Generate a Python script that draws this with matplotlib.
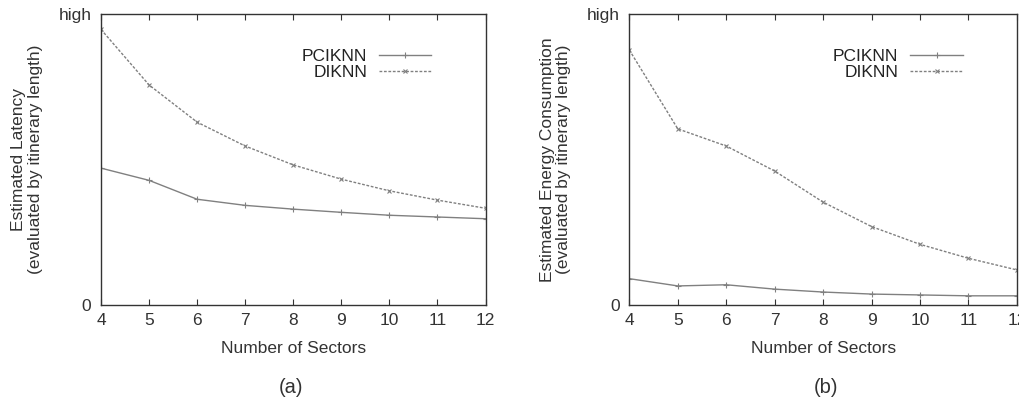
import matplotlib
matplotlib.use("Agg")
import matplotlib.pyplot as plt

plt.rcParams['font.family'] = ['Liberation Sans', 'DejaVu Sans']

sectors = [4, 5, 6, 7, 8, 9, 10, 11, 12]

# (a) estimated latency, normalised 0..high
latency_pciknn = [0.470, 0.428, 0.363, 0.342, 0.329, 0.318, 0.308, 0.302, 0.296]
latency_diknn = [0.947, 0.756, 0.628, 0.546, 0.481, 0.432, 0.392, 0.360, 0.332]

# (b) estimated energy consumption, normalised 0..high
energy_pciknn = [0.090, 0.065, 0.069, 0.054, 0.044, 0.037, 0.034, 0.031, 0.031]
energy_diknn = [0.876, 0.605, 0.546, 0.460, 0.353, 0.269, 0.208, 0.160, 0.120]

ylabels = ["Estimated Latency\n(evaluated by itinerary length)",
           "Estimated Energy Consumption\n(evaluated by itinerary length)"]
captions = ["(a)", "(b)"]

LINE = '#808080'
FS = 12.5


def draw_panel(ax, pciknn, diknn, ylabel):
    ax.plot(sectors, pciknn, color=LINE, lw=1.0, marker='+', ms=4,
            mew=0.8, label='PCIKNN')
    ax.plot(sectors, diknn, color=LINE, lw=1.0, ls=(0, (2, 1.2)),
            marker='x', ms=3.5, mew=0.8, label='DIKNN')
    ax.set_xlim(4, 12)
    ax.set_ylim(0, 1)
    ax.set_xticks(sectors)
    ax.set_yticks([0, 1])
    ax.set_yticklabels(['0', 'high'])
    ax.tick_params(direction='in', top=True, right=False, length=4,
                   labelsize=FS, colors='#333333', pad=6)
    ax.tick_params(axis='y', length=0, pad=7)
    for s in ax.spines.values():
        s.set_color('#333333')
        s.set_linewidth(1.0)
    ax.set_xlabel('Number of Sectors', fontsize=FS, color='#333333',
                  labelpad=9)
    ax.set_ylabel(ylabel, fontsize=FS, color='#333333', labelpad=11,
                  linespacing=1.15)
    ax.legend(loc='upper right', bbox_to_anchor=(0.90, 0.935),
              markerfirst=False, frameon=False, fontsize=FS,
              handlelength=3.0, handletextpad=0.7, labelspacing=0.05,
              labelcolor='#222222')


fig = plt.figure(figsize=(10.2, 3.99), dpi=100)
ax1 = fig.add_axes([0.099, 0.236, 0.377, 0.729])
ax2 = fig.add_axes([0.617, 0.236, 0.380, 0.729])

draw_panel(ax1, latency_pciknn, latency_diknn, ylabels[0])
draw_panel(ax2, energy_pciknn, energy_diknn, ylabels[1])

fig.text(0.285, 0.015, captions[0], ha='center', fontsize=14.5, color='#333333')
fig.text(0.81, 0.015, captions[1], ha='center', fontsize=14.5, color='#333333')

fig.savefig('out.png', dpi=100)
